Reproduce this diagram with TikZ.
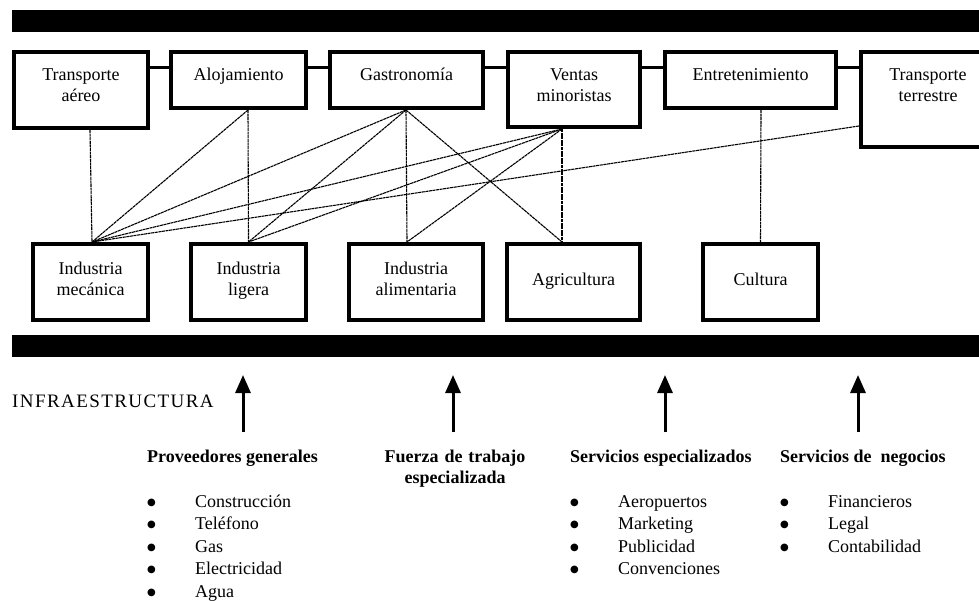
\documentclass[tikz,border=0pt]{standalone}
\usepackage{fontspec}
\setmainfont{Liberation Serif}
\newfontfamily\spacedfont[LetterSpace=7.5]{Liberation Serif}
\newfontfamily\symfont{DejaVu Sans}
\usetikzlibrary{positioning, arrows.meta}
\newcommand{\bul}{\makebox[48pt][l]{\raisebox{2pt}{\symfont\fontsize{10}{10}\selectfont ●}}}

\begin{document}
\begin{tikzpicture}[x=1pt, y=-1pt, inner sep=0pt]
      \tikzstyle{box}=[draw, line width=4pt, align=center, font=\fontsize{18}{21}\selectfont]
      \tikzstyle{topbox}=[box, text height=29pt]
      \tikzstyle{lowbox}=[box, text height=31pt, text depth=45pt]
      \tikzstyle{lowone}=[box, text height=42pt, text depth=34pt]
      \tikzstyle{link}=[line width=1.1pt, dash pattern=on 3pt off 0.6pt]
      \tikzstyle{bond}=[line width=3pt]
      \tikzstyle{uparrow}=[-{Triangle[width=15pt, length=18pt]}, line width=3pt, shorten <=17pt]
      \tikzstyle{head}=[font=\fontsize{18}{21.5}\selectfont\bfseries]
      \tikzstyle{items}=[font=\fontsize{18}{22.6}\selectfont, align=left, text width=200pt, anchor=base west]

      \useasboundingbox (0,0) rectangle (979,601);

      % Bars
      \fill (12,10) rectangle (979,32);
      \fill (12,335) rectangle (979,357);

      % Nodes
      \node[topbox, text width=134pt, text depth=47pt, anchor=north west] (aereo) at (12,50) {Transporte\\aéreo};
      \node[topbox, text width=135pt, text depth=27pt] (aloj)   [base right=19pt of aereo] {Alojamiento};
      \node[topbox, text width=153pt, text depth=27pt] (gastro) [base right=20pt of aloj] {Gastronomía};
      \node[topbox, text width=132pt, text depth=46pt] (ventas) [base right=21pt of gastro] {Ventas\\minoristas};
      \node[topbox, text width=171pt, text depth=27pt] (entret) [base right=21pt of ventas] {Entretenimiento};
      \node[topbox, text width=134pt, text depth=66pt] (terr)   [base right=21pt of entret] {Transporte\\terrestre};

      \node[lowbox, text width=115pt, anchor=north west] (mec) at (31,242) {Industria\\mecánica};
      \node[lowbox, text width=115pt] (lig)  [right=39pt of mec] {Industria\\ligera};
      \node[lowbox, text width=134pt] (alim) [right=39pt of lig] {Industria\\alimentaria};
      \node[lowone, text width=133pt] (agri) [right=20pt of alim] {Agricultura};
      \node[lowone, text width=115pt] (cult) [right=59pt of agri] {Cultura};

      % Anchors
      \coordinate (aereoB)  at ([xshift=9pt]aereo.south);
      \coordinate (alojB)   at ([xshift=9.5pt]aloj.south);
      \coordinate (gastroB) at ([xshift=-0.5pt]gastro.south);
      \coordinate (ventasB) at ([xshift=-12pt]ventas.south);
      \coordinate (entretB) at ([xshift=10.5pt]entret.south);
      \coordinate (terrL)   at ([yshift=-76pt]terr.north west);
      \coordinate (mecT)    at ([xshift=1.5pt]mec.north);
      \coordinate (ligT)    at (lig.north);
      \coordinate (alimT)   at ([xshift=-9pt]alim.north);
      \coordinate (agriT)   at ([xshift=-11.5pt]agri.north);
      \coordinate (cultT)   at (cult.north);

      % Edges
      \foreach \a/\b in {aereo/aloj, aloj/gastro, gastro/ventas, ventas/entret, entret/terr}
        \draw[bond] ([yshift=-18pt]\a.north east) -- ([yshift=-18pt]\b.north west);

      \path[link]
        (aereoB)  edge (mecT)
        (alojB)   edge (mecT) edge (ligT)
        (gastroB) edge (mecT) edge (ligT) edge (alimT) edge (agriT)
        (ventasB) edge (mecT) edge (ligT) edge (alimT) edge (agriT)
        (entretB) edge (cultT)
        (terrL)   edge (mecT);

      % Infrastructure
      \node[anchor=base west, font=\spacedfont\fontsize{19}{21}\selectfont] (infra) at (12,407) {INFRAESTRUCTURA};

      \node[head, anchor=base west] (prov) at (147,462) {Proveedores generales};
      \node[head, anchor=base, text width=160pt, align=center] (fuerza) at (455,462) {Fuerza de trabajo\\especializada};
      \node[head, anchor=base west] (espec) at (570,462) {Servicios especializados};
      \node[head, anchor=base west] (negoc) at (780,462) {Servicios de\ \ negocios};

      \node[items] (provList)  at (147,507) {\bul Construcción\\\bul Teléfono\\\bul Gas\\\bul Electricidad\\\bul Agua};
      \node[items] (especList) at (570,507) {\bul Aeropuertos\\\bul Marketing\\\bul Publicidad\\\bul Convenciones};
      \node[items] (negocList) at (780,507) {\bul Financieros\\\bul Legal\\\bul Contabilidad};

      \coordinate (provTip)   at (243,375);
      \coordinate (fuerzaTip) at (453,375);
      \coordinate (especTip)  at (665,375);
      \coordinate (negocTip)  at (858,375);
      \foreach \h in {prov, fuerza, espec, negoc}
        \draw[uparrow] (\h.north -| \h Tip) -- (\h Tip);
    \end{tikzpicture}
\end{document}
